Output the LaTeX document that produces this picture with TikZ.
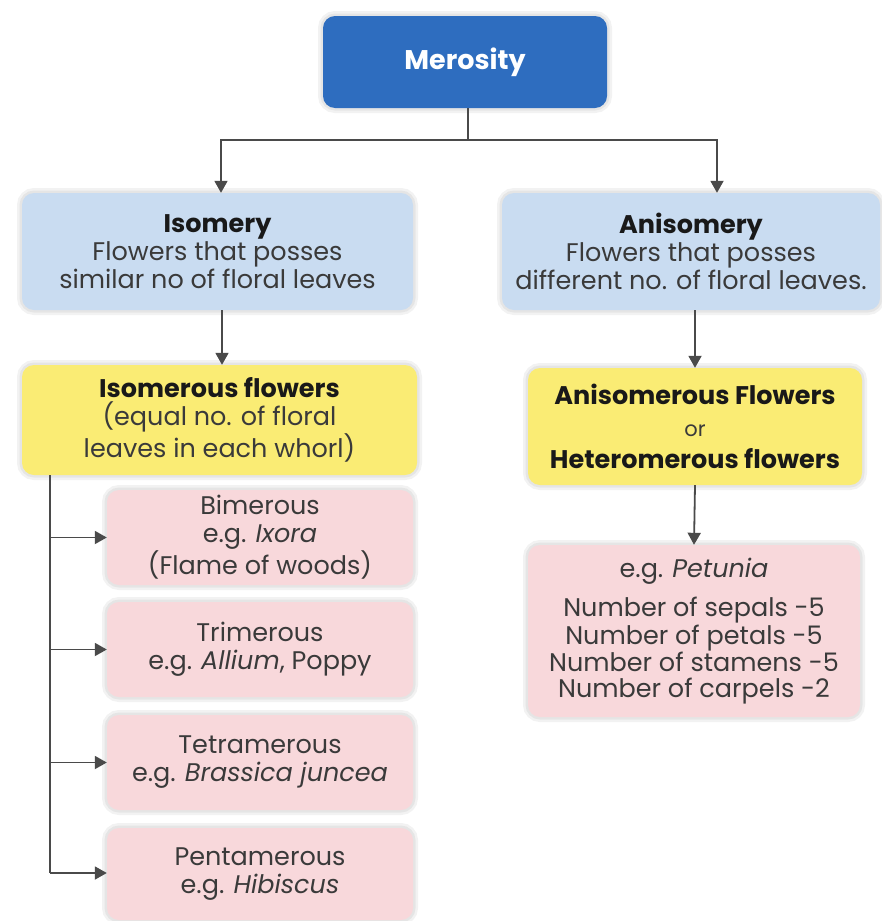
\documentclass[tikz,border=0pt]{standalone}
\usepackage{fontspec}
\setmainfont{Poppins}
\usetikzlibrary{arrows.meta,positioning}
\definecolor{meroblue}{HTML}{2E6DBF}
\definecolor{lightblue}{HTML}{C9DCF1}
\definecolor{boxyellow}{HTML}{FAEC74}
\definecolor{boxpink}{HTML}{F8D8DB}
\definecolor{linegray}{HTML}{4A4A4A}
\definecolor{txtgray}{HTML}{3A3A3A}
\tikzset{
  box/.style={rounded corners=12pt, align=center, inner sep=0pt,
    text=txtgray, font=\fontsize{25.5}{28}\selectfont,
    preaction={draw=black, draw opacity=0.05, line width=10pt},
    preaction={draw=black, draw opacity=0.05, line width=5pt}},
  bluebox/.style={box, fill=lightblue},
  yellowbox/.style={box, fill=boxyellow},
  pinkbox/.style={box, fill=boxpink},
  conn/.style={draw=linegray, line width=1.8pt},
  arr/.style={conn, -{Triangle[length=12pt,width=13pt]}}
}
\newcommand{\hdtext}[1]{{\bfseries\color{black!90}#1}}
\begin{document}
\begin{tikzpicture}[x=1pt,y=-1pt]
\useasboundingbox[fill=white] (0,0) rectangle (881,921);
\node[box, fill=meroblue, minimum width=284pt, minimum height=92pt, text=white, font=\fontsize{27}{30}\selectfont\bfseries] (mero) at (465,62) {Merosity};
\node[bluebox, minimum width=391pt, minimum height=117pt] (iso) at (217.5,251.5)
  {\hdtext{Isomery}\\Flowers that posses\\similar no of floral leaves};
\node[bluebox, minimum width=378pt, minimum height=117pt] (aniso) at (691,251.5)
  {\hdtext{Anisomery}\\Flowers that posses\\different no. of floral leaves.};
\node[yellowbox, minimum width=395pt, minimum height=110pt] (isof) at (219.5,420)
  {\hdtext{Isomerous flowers}\\(equal no. of floral\\leaves in each whorl)};
\node[yellowbox, minimum width=334pt, minimum height=117pt, font=\fontsize{25.5}{32}\selectfont] (anisof) at (695,426.5)
  {\hdtext{Anisomerous Flowers}\\{\fontsize{21}{22}\selectfont or}\\\hdtext{Heteromerous flowers}};
\node[pinkbox, minimum width=306pt, minimum height=95pt] (bi) at (260,537.5)
  {Bimerous\\e.g. \textit{Ixora}\\(Flame of woods)};
\node[pinkbox, minimum width=306pt, minimum height=95pt] (tri) at (260,649.5)
  {Trimerous\\e.g. \textit{Allium}, Poppy};
\node[pinkbox, minimum width=306pt, minimum height=95pt] (tetra) at (260,762.5)
  {Tetramerous\\e.g. \textit{Brassica juncea}};
\node[pinkbox, minimum width=306pt, minimum height=92pt] (penta) at (260,874)
  {Pentamerous\\e.g. \textit{Hibiscus}};
\node[pinkbox, minimum width=332pt, minimum height=172pt, font=\fontsize{25.5}{26}\selectfont] (pet) at (694,631)
  {e.g. \textit{Petunia}\\[12pt]Number of sepals -5\\Number of petals -5\\Number of stamens -5\\Number of carpels -2};
% connectors
\coordinate (j) at (468,140);
\coordinate (jl) at (221,140);
\coordinate (jr) at (717,140);
\draw[conn] (mero.south -| j) -- (j);
\draw[arr] (j) -- (jl) -- (jl |- iso.north);
\draw[arr] (j) -- (jr) -- (jr |- aniso.north);
\draw[arr] (iso.south -| 222,0) -- (isof.north -| 222,0);
\draw[arr] (anisof.north |- aniso.south) -- (anisof.north);
\draw[arr] (anisof.south) -- (pet.north);
\coordinate (bus) at (50,475);
\coordinate (busend) at (50,873);
\draw[conn] (isof.south -| bus) -- (busend);
\draw[arr] (bi.west -| bus) -- (bi.west);
\draw[arr] (tri.west -| bus) -- (tri.west);
\draw[arr] (tetra.west -| bus) -- (tetra.west);
\draw[arr] (busend) -- (penta.west |- busend);
\end{tikzpicture}
\end{document}
